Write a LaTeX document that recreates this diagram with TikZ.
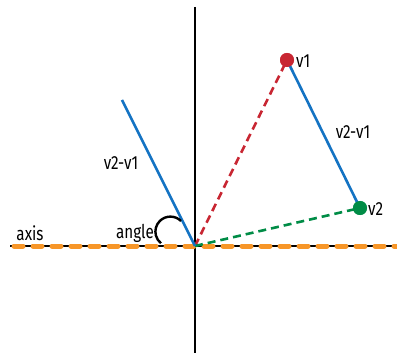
\documentclass[tikz,border=0pt]{standalone}
\usepackage{fontspec}
\setmainfont{Fira Sans}[FakeStretch=0.8]
\begin{document}
\begin{tikzpicture}[x=1pt,y=-1pt,
  lbl/.style={font=\fontsize{19}{21}\selectfont, inner sep=0pt},
  dot/.style={circle, inner sep=0pt, minimum size=14pt},
  blueline/.style={draw=vblue, line width=2.6pt},
]
\definecolor{vblue}{RGB}{20,115,195}
\definecolor{vred}{RGB}{200,38,50}
\definecolor{vgreen}{RGB}{0,140,70}
\definecolor{vorange}{RGB}{247,150,40}
\useasboundingbox (0,0) rectangle (397,353);
\coordinate (O) at (195,246);
\coordinate (ytop) at (195,7);
\coordinate (ybot) at (195,353);
\coordinate (xl) at (10,246);
\coordinate (xr) at (397,246);
\coordinate (w) at (122,100);
% axes
\draw[line width=2.6pt] (ytop) -- (ybot);
\draw[line width=2.6pt] (xl) -- (xr);
\draw[vorange, line width=5pt, line cap=round, dash pattern=on 9pt off 10pt, dash phase=-4pt] (xl) -- (xr);
% vectors
\node[dot, fill=vred] (v1) at (287,60) {};
\node[dot, fill=vgreen] (v2) at (360,208) {};
\draw[vred, line width=2.6pt, dash pattern=on 8pt off 5pt] (O) -- (v1.center);
\draw[vgreen, line width=2.6pt, dash pattern=on 8pt off 5pt] (O) -- (v2.center);
\draw[blueline] (v1.center) -- (v2.center);
\draw[blueline] (O) -- (w);
\node[dot, fill=vred] at (v1) {};
\node[dot, fill=vgreen] at (v2) {};
% angle arc
\draw[line width=2.4pt] (181,221) arc[start angle=45, end angle=231, radius=15pt];
% labels
\node[lbl, anchor=west] (l1) at (296,61) {v1};
\node[lbl, anchor=west] (l2) at (368,209) {v2};
\node[lbl] (d1) at (353,132) {v2-v1};
\node[lbl] (d2) at (121,163) {v2-v1};
\node[lbl] (ax) at (30,233) {axis};
\node[lbl] (an) at (135,233) {angle};
\end{tikzpicture}
\end{document}
